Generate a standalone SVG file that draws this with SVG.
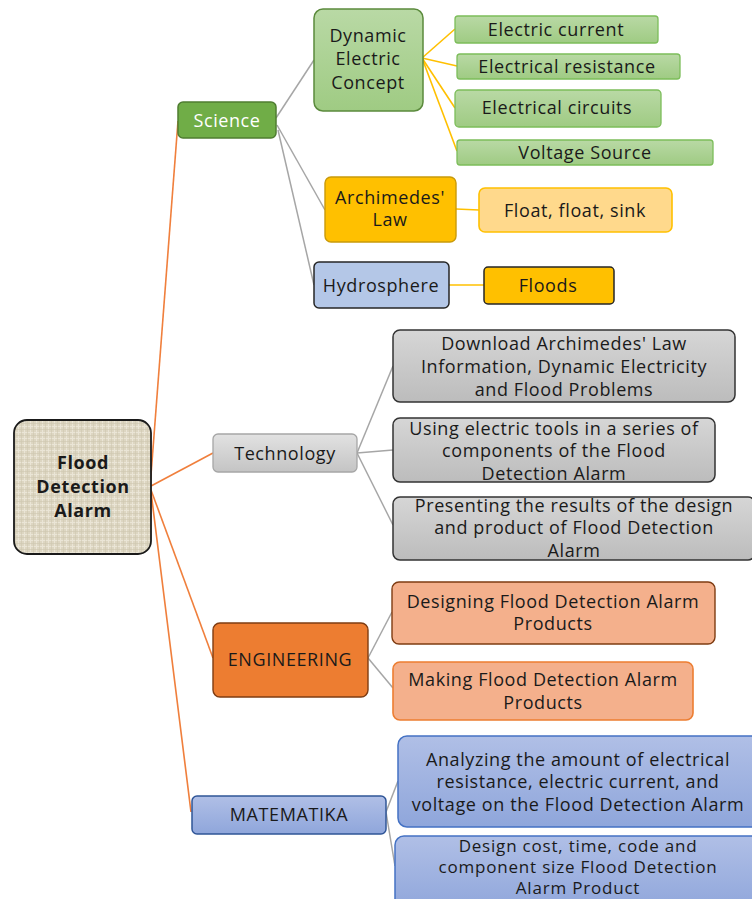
<svg xmlns="http://www.w3.org/2000/svg" width="752" height="899" viewBox="0 0 752 899">
<style>
text{font-family:"Open Sans","DejaVu Sans",sans-serif;font-size:18px;letter-spacing:0.6px;fill:#1a1a1a;text-anchor:middle}
.b{font-weight:bold;font-size:18px;letter-spacing:0.6px}
.s{font-size:17px;letter-spacing:0.8px}
.w{fill:#ffffff}
.or{stroke:#f07f3c;stroke-width:1.6;fill:none}
.gr{stroke:#a6a6a6;stroke-width:1.5;fill:none}
.ye{stroke:#ffc000;stroke-width:1.6;fill:none}
</style>
<defs>
<pattern id="burlap" width="6" height="6" patternUnits="userSpaceOnUse">
<rect width="6" height="6" fill="#ddd6c2"/>
<path d="M0 0.5H6M0.5 0V6" stroke="#eae5d6" stroke-width="1"/>
<path d="M0 3.5H6M3.5 0V6" stroke="#cfc7b0" stroke-width="0.6"/>
</pattern>
<linearGradient id="gGreen" x1="0" y1="0" x2="0" y2="1"><stop offset="0" stop-color="#b9d9a5"/><stop offset="1" stop-color="#9fcb83"/></linearGradient>
<linearGradient id="gGray" x1="0" y1="0" x2="0" y2="1"><stop offset="0" stop-color="#e2e2e2"/><stop offset="1" stop-color="#c4c4c4"/></linearGradient>
<linearGradient id="gGray2" x1="0" y1="0" x2="0" y2="1"><stop offset="0" stop-color="#d6d6d6"/><stop offset="1" stop-color="#bcbcbc"/></linearGradient>
<linearGradient id="gBlue" x1="0" y1="0" x2="0" y2="1"><stop offset="0" stop-color="#b0bfe6"/><stop offset="1" stop-color="#8fa6db"/></linearGradient>
</defs>

<g id="connectors">
<path class="or" d="M150 488 L178 121"/>
<path class="or" d="M151 486 L213 453"/>
<path class="or" d="M151 490 L213 658"/>
<path class="or" d="M151 492 L191 812"/>
<path class="gr" d="M276 118 L314 60"/>
<path class="gr" d="M277 125 L325 210"/>
<path class="gr" d="M278 130 L314 285"/>
<path class="ye" d="M422 58 L455 29"/>
<path class="ye" d="M422 58 L457 66"/>
<path class="ye" d="M422 58 L455 108"/>
<path class="ye" d="M422 58 L457 151"/>
<path class="ye" d="M456 209 L479 210"/>
<path class="ye" d="M449 285 L484 285"/>
<path class="gr" d="M357 453 L393 366"/>
<path class="gr" d="M357 453 L393 450"/>
<path class="gr" d="M357 453 L393 525"/>
<path class="gr" d="M368 658 L392 612"/>
<path class="gr" d="M368 658 L393 688"/>
<path class="gr" d="M386 812 L398 781"/>
<path class="gr" d="M386 812 L395 866"/>
</g>

<g id="root">
<rect x="14" y="420" width="137" height="134" rx="13" fill="url(#burlap)" stroke="#1a1a1a" stroke-width="1.8"/>
<text class="b" x="83" y="469">Flood</text>
<text class="b" x="83" y="493">Detection</text>
<text class="b" x="83" y="517">Alarm</text>
</g>

<g id="science">
<rect x="178" y="102" width="98" height="36" rx="5" fill="#70ad47" stroke="#4f7d31" stroke-width="1.5"/>
<text class="w" x="227" y="127">Science</text>
</g>

<g id="dynamic">
<rect x="314" y="9" width="109" height="102" rx="9" fill="url(#gGreen)" stroke="#5b8a3c" stroke-width="1.5"/>
<text x="368" y="42">Dynamic</text>
<text x="368" y="65">Electric</text>
<text x="368" y="89">Concept</text>
</g>

<g id="electric-current">
<rect x="455" y="16" width="203" height="27" rx="3" fill="url(#gGreen)" stroke="#7cbd5a" stroke-width="1.3"/>
<text x="556" y="36">Electric current</text>
</g>
<g id="electrical-resistance">
<rect x="457" y="54" width="223" height="25" rx="3" fill="url(#gGreen)" stroke="#7cbd5a" stroke-width="1.3"/>
<text x="567" y="73">Electrical resistance</text>
</g>
<g id="electrical-circuits">
<rect x="455" y="90" width="206" height="37" rx="4" fill="url(#gGreen)" stroke="#7cbd5a" stroke-width="1.3"/>
<text x="557" y="114">Electrical circuits</text>
</g>
<g id="voltage-source">
<rect x="457" y="140" width="256" height="25" rx="3" fill="url(#gGreen)" stroke="#7cbd5a" stroke-width="1.3"/>
<text x="585" y="159">Voltage Source</text>
</g>

<g id="archimedes">
<rect x="325" y="177" width="131" height="65" rx="6" fill="#ffc000" stroke="#c99a0a" stroke-width="1.4"/>
<text x="390" y="204">Archimedes'</text>
<text x="390" y="226">Law</text>
</g>
<g id="float">
<rect x="479" y="188" width="193" height="44" rx="6" fill="#ffd98c" stroke="#ffc000" stroke-width="1.6"/>
<text x="575" y="217">Float, float, sink</text>
</g>

<g id="hydrosphere">
<rect x="314" y="262" width="135" height="46" rx="5" fill="#b4c7e7" stroke="#262626" stroke-width="1.5"/>
<text x="381" y="292">Hydrosphere</text>
</g>
<g id="floods">
<rect x="484" y="267" width="130" height="37" rx="4" fill="#ffc000" stroke="#262626" stroke-width="1.5"/>
<text x="548" y="292">Floods</text>
</g>

<g id="technology">
<rect x="213" y="434" width="144" height="38" rx="5" fill="url(#gGray)" stroke="#a6a6a6" stroke-width="1.3"/>
<text x="285" y="460">Technology</text>
</g>
<g id="tech-download">
<rect x="393" y="330" width="342" height="72" rx="7" fill="url(#gGray2)" stroke="#333333" stroke-width="1.5"/>
<text x="564" y="350">Download Archimedes' Law</text>
<text x="564" y="373">Information, Dynamic Electricity</text>
<text x="564" y="396">and Flood Problems</text>
</g>
<g id="tech-using">
<rect x="393" y="418" width="322" height="64" rx="7" fill="url(#gGray2)" stroke="#333333" stroke-width="1.5"/>
<text x="554" y="435">Using electric tools in a series of</text>
<text x="554" y="457">components of the Flood</text>
<text x="554" y="480">Detection Alarm</text>
</g>
<g id="tech-presenting">
<rect x="393" y="497" width="362" height="63" rx="7" fill="url(#gGray2)" stroke="#333333" stroke-width="1.5"/>
<text x="574" y="512">Presenting the results of the design</text>
<text x="574" y="534">and product of Flood Detection</text>
<text x="574" y="557">Alarm</text>
</g>

<g id="engineering">
<rect x="213" y="623" width="155" height="74" rx="7" fill="#ed7d31" stroke="#7f3c12" stroke-width="1.4"/>
<text x="290" y="666">ENGINEERING</text>
</g>
<g id="eng-designing">
<rect x="392" y="582" width="323" height="62" rx="7" fill="#f4b08c" stroke="#7f3c12" stroke-width="1.4"/>
<text x="553" y="608">Designing Flood Detection Alarm</text>
<text x="553" y="630">Products</text>
</g>
<g id="eng-making">
<rect x="393" y="662" width="300" height="58" rx="7" fill="#f4b08c" stroke="#ed7d31" stroke-width="1.6"/>
<text x="543" y="686">Making Flood Detection Alarm</text>
<text x="543" y="709">Products</text>
</g>

<g id="matematika">
<rect x="192" y="796" width="194" height="38" rx="5" fill="url(#gBlue)" stroke="#2f5597" stroke-width="1.5"/>
<text x="289" y="821">MATEMATIKA</text>
</g>
<g id="mat-analyzing">
<rect x="398" y="736" width="362" height="91" rx="9" fill="url(#gBlue)" stroke="#4472c4" stroke-width="1.5"/>
<text x="578" y="766">Analyzing the amount of electrical</text>
<text x="578" y="788">resistance, electric current, and</text>
<text x="578" y="811">voltage on the Flood Detection Alarm</text>
</g>
<g id="mat-design">
<rect x="395" y="836" width="365" height="75" rx="9" fill="url(#gBlue)" stroke="#4472c4" stroke-width="1.5"/>
<text class="s" x="578" y="852">Design cost, time, code and</text>
<text class="s" x="578" y="873">component size Flood Detection</text>
<text class="s" x="578" y="894">Alarm Product</text>
</g>
</svg>
